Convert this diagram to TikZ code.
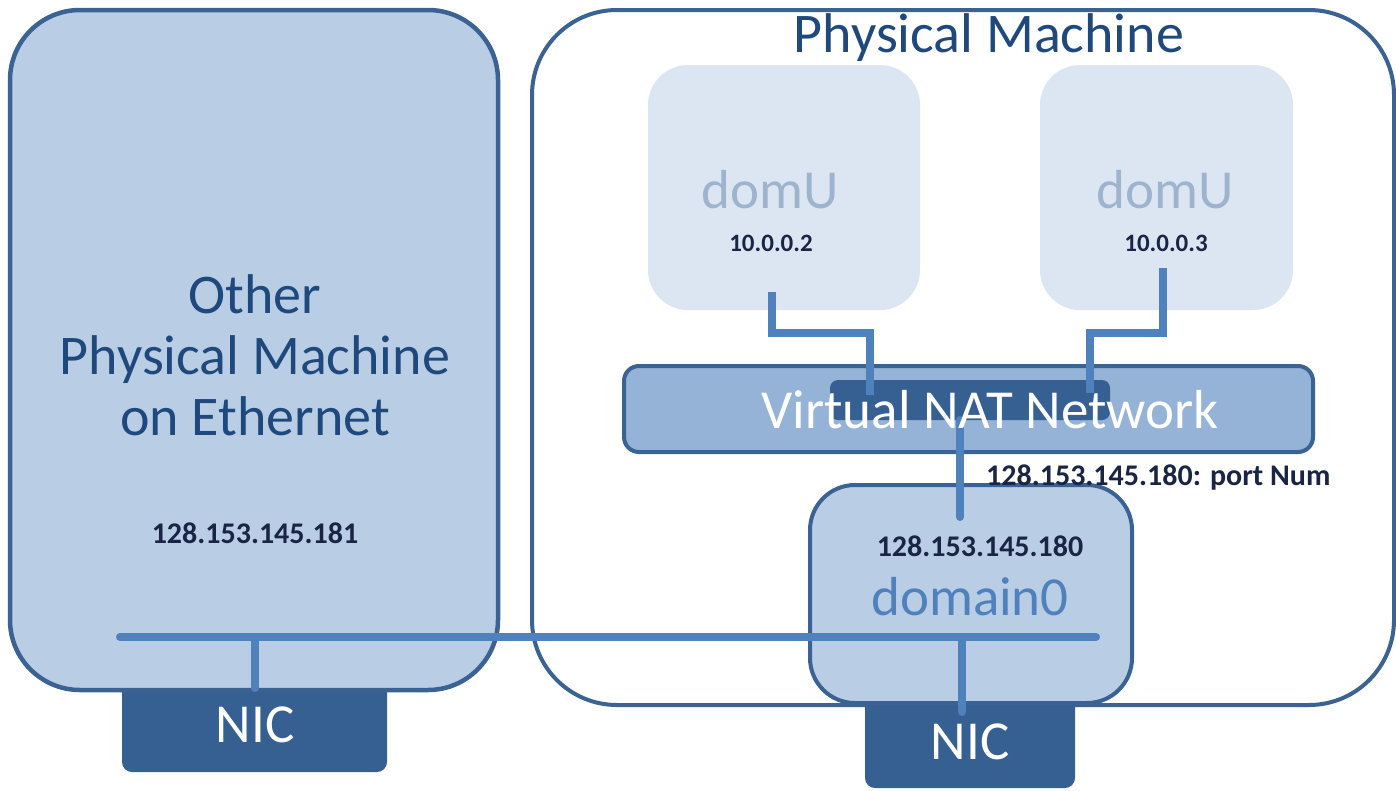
\documentclass[tikz,border=0pt]{standalone}
\usepackage{fontspec}
\setmainfont{Carlito}
\definecolor{bordc}{HTML}{3A6394}
\definecolor{boxfill}{HTML}{B9CDE5}
\definecolor{natfill}{HTML}{95B3D7}
\definecolor{darkbox}{HTML}{366092}
\definecolor{domufill}{HTML}{DCE6F2}
\definecolor{wire}{HTML}{4F81BD}
\definecolor{titlec}{HTML}{1F497D}
\definecolor{ipc}{HTML}{1A2545}
\definecolor{domutext}{HTML}{9DB3CE}
\begin{document}
\begin{tikzpicture}[x=1pt,y=-1pt,
  machine/.style={draw=bordc, line width=4.5pt, rectangle, inner sep=0pt},
  nicbox/.style={fill=darkbox, rectangle, rounded corners=10pt, inner sep=0pt},
  domubox/.style={fill=domufill, rectangle, rounded corners=40pt, inner sep=0pt},
  wireline/.style={draw=wire, line width=8pt, line cap=round},
  bigtext/.style={font=\fontsize{55}{61}\selectfont, inner sep=0pt},
  iptext/.style={font=\fontsize{30}{32}\selectfont\bfseries, text=ipc, inner sep=0pt},
  smallip/.style={font=\fontsize{25}{27}\selectfont\bfseries, text=ipc, inner sep=0pt}
]
\useasboundingbox (0,0) rectangle (1396,790);
\fill[white] (0,0) rectangle (1396,790);

% left NIC (behind the machine box)
\node[nicbox, minimum width=265pt, minimum height=92pt] (nicL) at (254.5,726) {};
% other physical machine
\node[machine, fill=boxfill, rounded corners=70pt, minimum width=488pt, minimum height=680pt] (other) at (254,350) {};
% physical machine
\node[machine, fill=white, line width=4pt, rounded corners=85pt, minimum width=862pt, minimum height=695pt] (pm) at (963,357.5) {};
% right NIC
\node[nicbox, minimum width=210pt, minimum height=98pt] (nicR) at (970,739) {};
% domU boxes
\node[domubox, minimum width=272pt, minimum height=245pt] (du1) at (784,187.5) {};
\node[domubox, minimum width=253pt, minimum height=245pt] (du2) at (1166.5,187.5) {};
% NAT
\node[machine, fill=natfill, line width=4pt, rounded corners=15pt, minimum width=689pt, minimum height=86pt] (nat) at (968.5,409) {};
\node[nicbox, rounded corners=8pt, minimum width=280pt, minimum height=40pt] (natin) at (970,400) {};
% domain0
\node[machine, fill=boxfill, line width=4pt, rounded corners=45pt, minimum width=322pt, minimum height=218pt] (dom0) at (971,594) {};

% coordinates for wires
\coordinate (p1) at (772,292);
\coordinate (p1n) at (870,395);
\coordinate (p2) at (1163,268);
\coordinate (p2n) at (1090,393);
\coordinate (pn) at (960,420);
\coordinate (pd) at (960,517);
\coordinate (eL) at (120,637);
\coordinate (eR) at (1096,637);
\coordinate (tL) at (255,637);
\coordinate (bL) at (255,688);
\coordinate (tR) at (962,637);
\coordinate (bR) at (962,712);

\draw[wireline, line cap=butt] (p1) -- (772,333) -- (870,333) -- (p1n);
\draw[wireline, line cap=butt] (p2) -- (1163,333) -- (1090,333) -- (p2n);
\draw[wireline] (pn) -- (pd);
\draw[wireline] (eL) -- (eR);
\draw[wireline] (tL) -- (bL);
\draw[wireline] (tR) -- (bR);

% texts
\node[bigtext, text=titlec, font=\fontsize{56}{61}\selectfont] (pmt) at (989,38) {Physical Machine};
\node[bigtext, text=titlec, align=center, font=\fontsize{56}{61}\selectfont] (othert) at (255,355) {Other\\Physical Machine\\on Ethernet};
\node[iptext] (ip181) at (255,533) {128.153.145.181};
\node[bigtext, text=domutext] (du1t) at (770,190) {domU};
\node[bigtext, text=domutext] (du2t) at (1165,190) {domU};
\node[smallip] (ip2) at (771,243) {10.0.0.2};
\node[smallip] (ip3) at (1166,243) {10.0.0.3};
\node[bigtext, text=white] (natt) at (990,410) {Virtual NAT Network};
\node[iptext, anchor=west] (port) at (986,477) {128.153.145.180: port Num};
\node[iptext] (ip180) at (980,546) {128.153.145.180};
\node[bigtext, text=wire] (d0t) at (970,597) {domain0};
\node[bigtext, text=white] (nicLt) at (255,725) {NIC};
\node[bigtext, text=white] (nicRt) at (970,742) {NIC};
\end{tikzpicture}
\end{document}
